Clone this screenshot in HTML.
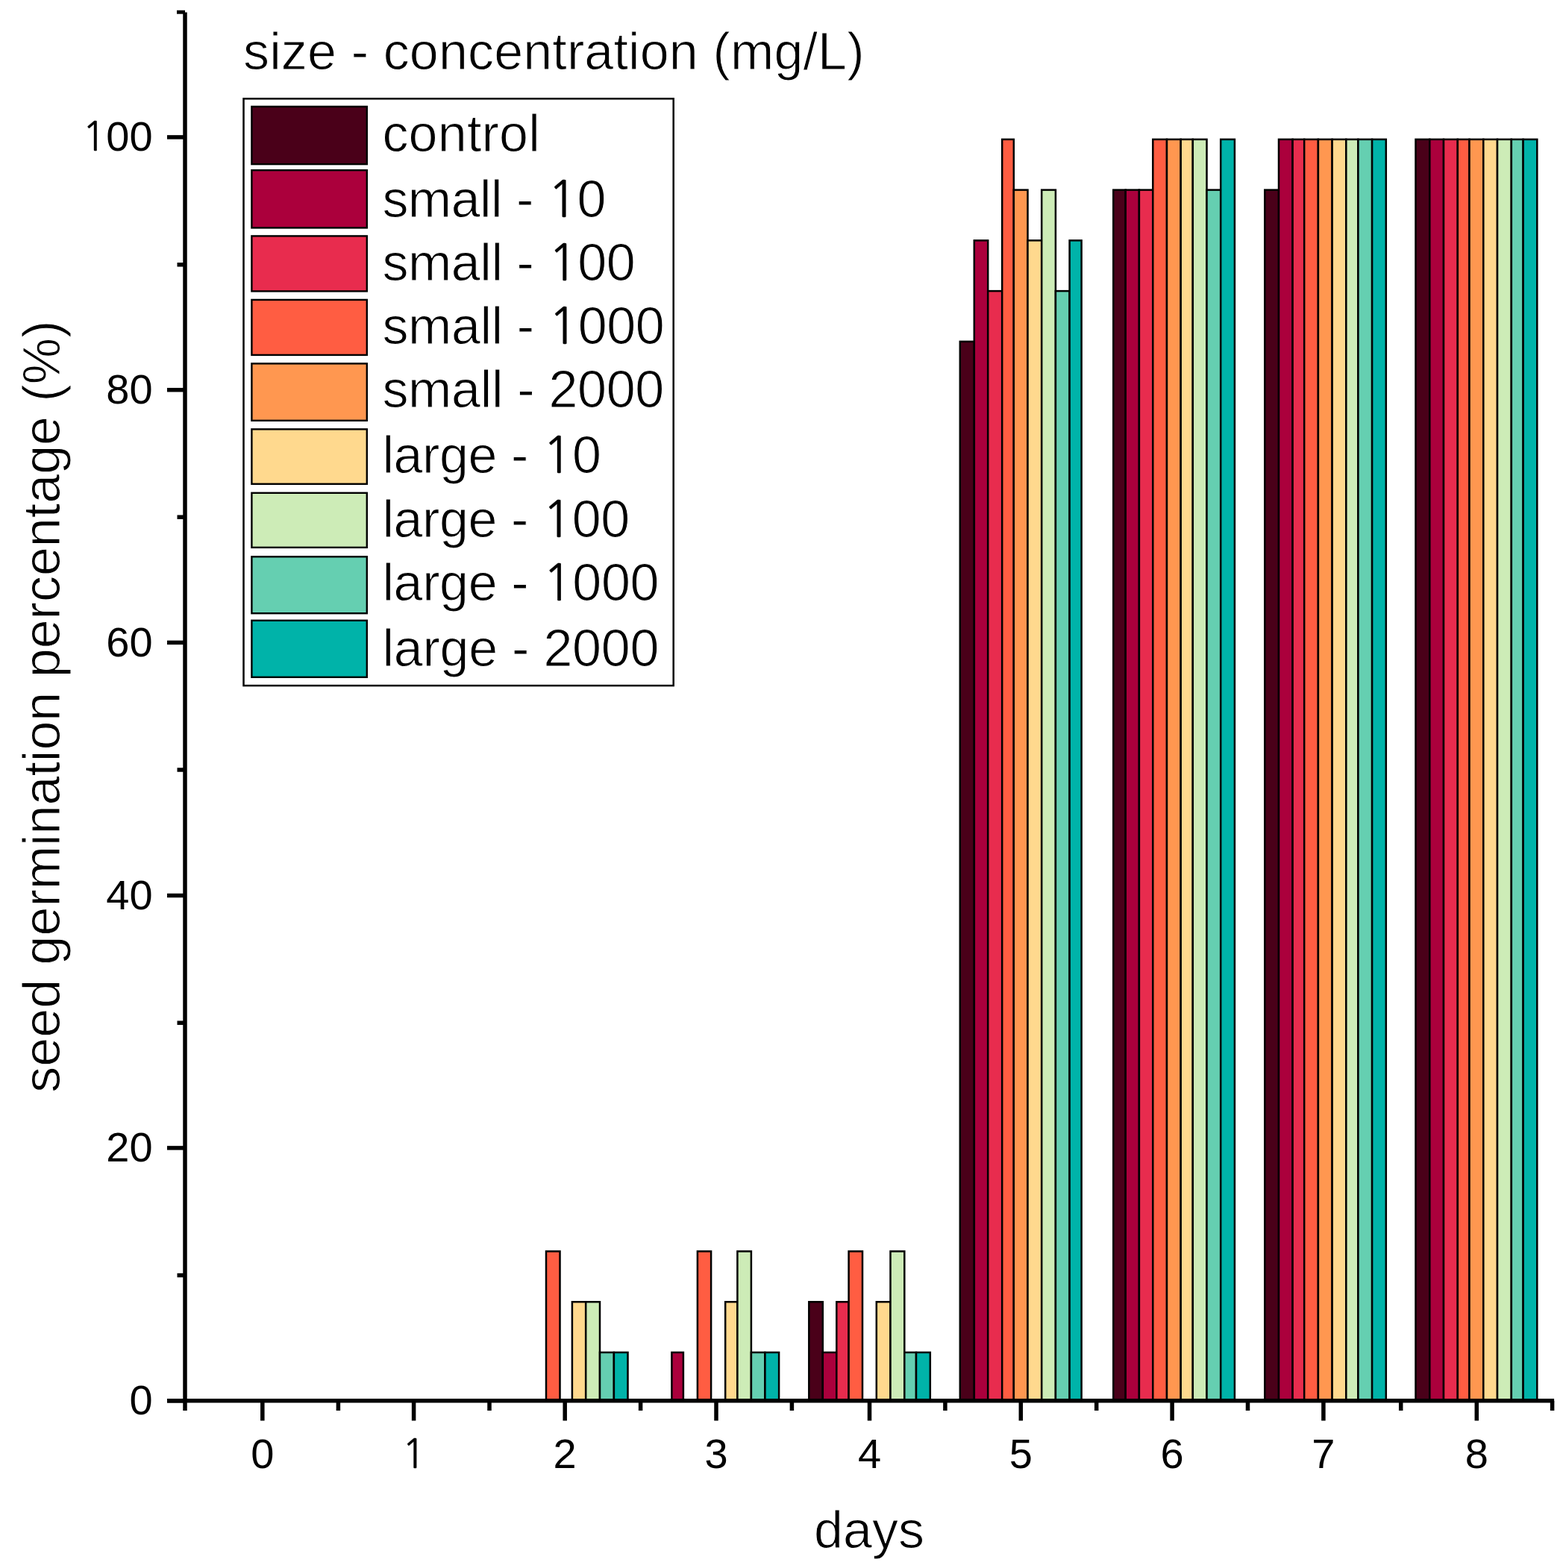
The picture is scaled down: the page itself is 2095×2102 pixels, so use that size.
<!DOCTYPE html>
<html><head><meta charset="utf-8"><title>seed germination</title>
<style>html,body{margin:0;padding:0;background:#fff;}body{width:2095px;height:2102px;overflow:hidden;}svg{display:block;}</style>
</head><body>
<svg width="2095" height="2102" viewBox="0 0 2095 2102"><rect x="732.00" y="1677.48" width="18.50" height="200.32" fill="#ff5d42" stroke="#000" stroke-width="2.5"/>
<rect x="766.90" y="1745.24" width="18.30" height="132.56" fill="#ffd98e" stroke="#000" stroke-width="2.5"/>
<rect x="785.20" y="1745.24" width="18.80" height="132.56" fill="#cdecb7" stroke="#000" stroke-width="2.5"/>
<rect x="804.00" y="1812.99" width="18.90" height="64.81" fill="#65cfb1" stroke="#000" stroke-width="2.5"/>
<rect x="822.90" y="1812.99" width="18.60" height="64.81" fill="#00b3a9" stroke="#000" stroke-width="2.5"/>
<rect x="900.40" y="1812.99" width="15.50" height="64.81" fill="#ab003c" stroke="#000" stroke-width="2.5"/>
<rect x="934.90" y="1677.48" width="18.20" height="200.32" fill="#ff5d42" stroke="#000" stroke-width="2.5"/>
<rect x="972.20" y="1745.24" width="16.20" height="132.56" fill="#ffd98e" stroke="#000" stroke-width="2.5"/>
<rect x="988.40" y="1677.48" width="18.50" height="200.32" fill="#cdecb7" stroke="#000" stroke-width="2.5"/>
<rect x="1006.90" y="1812.99" width="18.50" height="64.81" fill="#65cfb1" stroke="#000" stroke-width="2.5"/>
<rect x="1025.40" y="1812.99" width="18.70" height="64.81" fill="#00b3a9" stroke="#000" stroke-width="2.5"/>
<rect x="1084.30" y="1745.24" width="18.50" height="132.56" fill="#4a0019" stroke="#000" stroke-width="2.5"/>
<rect x="1102.80" y="1812.99" width="18.50" height="64.81" fill="#ab003c" stroke="#000" stroke-width="2.5"/>
<rect x="1121.30" y="1745.24" width="16.30" height="132.56" fill="#e82c4e" stroke="#000" stroke-width="2.5"/>
<rect x="1137.60" y="1677.48" width="18.40" height="200.32" fill="#ff5d42" stroke="#000" stroke-width="2.5"/>
<rect x="1174.80" y="1745.24" width="18.70" height="132.56" fill="#ffd98e" stroke="#000" stroke-width="2.5"/>
<rect x="1193.50" y="1677.48" width="18.80" height="200.32" fill="#cdecb7" stroke="#000" stroke-width="2.5"/>
<rect x="1212.30" y="1812.99" width="15.70" height="64.81" fill="#65cfb1" stroke="#000" stroke-width="2.5"/>
<rect x="1228.00" y="1812.99" width="18.80" height="64.81" fill="#00b3a9" stroke="#000" stroke-width="2.5"/>
<rect x="1286.80" y="457.87" width="19.00" height="1419.93" fill="#4a0019" stroke="#000" stroke-width="2.5"/>
<rect x="1305.80" y="322.36" width="18.40" height="1555.44" fill="#ab003c" stroke="#000" stroke-width="2.5"/>
<rect x="1324.20" y="390.12" width="19.00" height="1487.68" fill="#e82c4e" stroke="#000" stroke-width="2.5"/>
<rect x="1343.20" y="186.85" width="15.60" height="1690.95" fill="#ff5d42" stroke="#000" stroke-width="2.5"/>
<rect x="1358.80" y="254.61" width="18.70" height="1623.19" fill="#ff9750" stroke="#000" stroke-width="2.5"/>
<rect x="1377.50" y="322.36" width="18.70" height="1555.44" fill="#ffd98e" stroke="#000" stroke-width="2.5"/>
<rect x="1396.20" y="254.61" width="18.70" height="1623.19" fill="#cdecb7" stroke="#000" stroke-width="2.5"/>
<rect x="1414.90" y="390.12" width="18.70" height="1487.68" fill="#65cfb1" stroke="#000" stroke-width="2.5"/>
<rect x="1433.60" y="322.36" width="16.00" height="1555.44" fill="#00b3a9" stroke="#000" stroke-width="2.5"/>
<rect x="1492.30" y="254.61" width="16.40" height="1623.19" fill="#4a0019" stroke="#000" stroke-width="2.5"/>
<rect x="1508.70" y="254.61" width="18.20" height="1623.19" fill="#ab003c" stroke="#000" stroke-width="2.5"/>
<rect x="1526.90" y="254.61" width="18.40" height="1623.19" fill="#e82c4e" stroke="#000" stroke-width="2.5"/>
<rect x="1545.30" y="186.85" width="18.70" height="1690.95" fill="#ff5d42" stroke="#000" stroke-width="2.5"/>
<rect x="1564.00" y="186.85" width="18.70" height="1690.95" fill="#ff9750" stroke="#000" stroke-width="2.5"/>
<rect x="1582.70" y="186.85" width="16.10" height="1690.95" fill="#ffd98e" stroke="#000" stroke-width="2.5"/>
<rect x="1598.80" y="186.85" width="18.70" height="1690.95" fill="#cdecb7" stroke="#000" stroke-width="2.5"/>
<rect x="1617.50" y="254.61" width="18.70" height="1623.19" fill="#65cfb1" stroke="#000" stroke-width="2.5"/>
<rect x="1636.20" y="186.85" width="18.70" height="1690.95" fill="#00b3a9" stroke="#000" stroke-width="2.5"/>
<rect x="1695.30" y="254.61" width="18.70" height="1623.19" fill="#4a0019" stroke="#000" stroke-width="2.5"/>
<rect x="1714.00" y="186.85" width="18.60" height="1690.95" fill="#ab003c" stroke="#000" stroke-width="2.5"/>
<rect x="1732.60" y="186.85" width="15.60" height="1690.95" fill="#e82c4e" stroke="#000" stroke-width="2.5"/>
<rect x="1748.20" y="186.85" width="18.70" height="1690.95" fill="#ff5d42" stroke="#000" stroke-width="2.5"/>
<rect x="1766.90" y="186.85" width="18.70" height="1690.95" fill="#ff9750" stroke="#000" stroke-width="2.5"/>
<rect x="1785.60" y="186.85" width="18.70" height="1690.95" fill="#ffd98e" stroke="#000" stroke-width="2.5"/>
<rect x="1804.30" y="186.85" width="16.10" height="1690.95" fill="#cdecb7" stroke="#000" stroke-width="2.5"/>
<rect x="1820.40" y="186.85" width="18.70" height="1690.95" fill="#65cfb1" stroke="#000" stroke-width="2.5"/>
<rect x="1839.10" y="186.85" width="18.70" height="1690.95" fill="#00b3a9" stroke="#000" stroke-width="2.5"/>
<rect x="1897.50" y="186.85" width="18.80" height="1690.95" fill="#4a0019" stroke="#000" stroke-width="2.5"/>
<rect x="1916.30" y="186.85" width="18.70" height="1690.95" fill="#ab003c" stroke="#000" stroke-width="2.5"/>
<rect x="1935.00" y="186.85" width="18.80" height="1690.95" fill="#e82c4e" stroke="#000" stroke-width="2.5"/>
<rect x="1953.80" y="186.85" width="15.70" height="1690.95" fill="#ff5d42" stroke="#000" stroke-width="2.5"/>
<rect x="1969.50" y="186.85" width="18.80" height="1690.95" fill="#ff9750" stroke="#000" stroke-width="2.5"/>
<rect x="1988.30" y="186.85" width="18.70" height="1690.95" fill="#ffd98e" stroke="#000" stroke-width="2.5"/>
<rect x="2007.00" y="186.85" width="18.80" height="1690.95" fill="#cdecb7" stroke="#000" stroke-width="2.5"/>
<rect x="2025.80" y="186.85" width="15.80" height="1690.95" fill="#65cfb1" stroke="#000" stroke-width="2.5"/>
<rect x="2041.60" y="186.85" width="18.70" height="1690.95" fill="#00b3a9" stroke="#000" stroke-width="2.5"/>
<line x1="248.0" y1="16.4" x2="248.0" y2="1877.8" stroke="#000" stroke-width="5.5"/>
<line x1="224" y1="1877.8" x2="2083.10" y2="1877.8" stroke="#000" stroke-width="5.5"/>
<line x1="224" y1="1877.80" x2="248.0" y2="1877.80" stroke="#000" stroke-width="5.5"/>
<line x1="237.5" y1="1709.60" x2="248.0" y2="1709.60" stroke="#000" stroke-width="5.5"/>
<line x1="224" y1="1538.90" x2="248.0" y2="1538.90" stroke="#000" stroke-width="5.5"/>
<line x1="237.5" y1="1371.20" x2="248.0" y2="1371.20" stroke="#000" stroke-width="5.5"/>
<line x1="224" y1="1200.50" x2="248.0" y2="1200.50" stroke="#000" stroke-width="5.5"/>
<line x1="237.5" y1="1032.00" x2="248.0" y2="1032.00" stroke="#000" stroke-width="5.5"/>
<line x1="224" y1="861.40" x2="248.0" y2="861.40" stroke="#000" stroke-width="5.5"/>
<line x1="237.5" y1="693.20" x2="248.0" y2="693.20" stroke="#000" stroke-width="5.5"/>
<line x1="224" y1="522.70" x2="248.0" y2="522.70" stroke="#000" stroke-width="5.5"/>
<line x1="237.5" y1="354.80" x2="248.0" y2="354.80" stroke="#000" stroke-width="5.5"/>
<line x1="224" y1="183.90" x2="248.0" y2="183.90" stroke="#000" stroke-width="5.5"/>
<line x1="237" y1="16.25" x2="248" y2="16.25" stroke="#000" stroke-width="4.9"/>
<line x1="248.00" y1="1877.8" x2="248.00" y2="1891" stroke="#000" stroke-width="5.5"/>
<line x1="351.80" y1="1877.8" x2="351.80" y2="1904.5" stroke="#000" stroke-width="5.5"/>
<line x1="453.40" y1="1877.8" x2="453.40" y2="1891" stroke="#000" stroke-width="5.5"/>
<line x1="554.60" y1="1877.8" x2="554.60" y2="1904.5" stroke="#000" stroke-width="5.5"/>
<line x1="656.00" y1="1877.8" x2="656.00" y2="1891" stroke="#000" stroke-width="5.5"/>
<line x1="757.20" y1="1877.8" x2="757.20" y2="1904.5" stroke="#000" stroke-width="5.5"/>
<line x1="858.60" y1="1877.8" x2="858.60" y2="1891" stroke="#000" stroke-width="5.5"/>
<line x1="960.00" y1="1877.8" x2="960.00" y2="1904.5" stroke="#000" stroke-width="5.5"/>
<line x1="1061.40" y1="1877.8" x2="1061.40" y2="1891" stroke="#000" stroke-width="5.5"/>
<line x1="1165.50" y1="1877.8" x2="1165.50" y2="1904.5" stroke="#000" stroke-width="5.5"/>
<line x1="1266.90" y1="1877.8" x2="1266.90" y2="1891" stroke="#000" stroke-width="5.5"/>
<line x1="1368.30" y1="1877.8" x2="1368.30" y2="1904.5" stroke="#000" stroke-width="5.5"/>
<line x1="1469.70" y1="1877.8" x2="1469.70" y2="1891" stroke="#000" stroke-width="5.5"/>
<line x1="1571.10" y1="1877.8" x2="1571.10" y2="1904.5" stroke="#000" stroke-width="5.5"/>
<line x1="1672.50" y1="1877.8" x2="1672.50" y2="1891" stroke="#000" stroke-width="5.5"/>
<line x1="1773.90" y1="1877.8" x2="1773.90" y2="1904.5" stroke="#000" stroke-width="5.5"/>
<line x1="1877.70" y1="1877.8" x2="1877.70" y2="1891" stroke="#000" stroke-width="5.5"/>
<line x1="1979.30" y1="1877.8" x2="1979.30" y2="1904.5" stroke="#000" stroke-width="5.5"/>
<line x1="2080.60" y1="1877.8" x2="2080.60" y2="1891" stroke="#000" stroke-width="5.5"/>
<text x="204.6" y="1896.30" text-anchor="end" font-size="56.0" font-family="'Liberation Sans', Arial, sans-serif">0</text>
<text x="204.6" y="1557.40" text-anchor="end" font-size="56.0" font-family="'Liberation Sans', Arial, sans-serif">20</text>
<text x="204.6" y="1219.00" text-anchor="end" font-size="56.0" font-family="'Liberation Sans', Arial, sans-serif">40</text>
<text x="204.6" y="879.90" text-anchor="end" font-size="56.0" font-family="'Liberation Sans', Arial, sans-serif">60</text>
<text x="204.6" y="541.20" text-anchor="end" font-size="56.0" font-family="'Liberation Sans', Arial, sans-serif">80</text>
<text x="204.6" y="202.40" text-anchor="end" font-size="56.0" font-family="'Liberation Sans', Arial, sans-serif"><tspan font-family="NanumGothic, 'Liberation Sans', sans-serif" font-size="53.31" stroke="#000" stroke-width="0.3">1</tspan>00</text>
<text x="351.80" y="1968" text-anchor="middle" font-size="56.0" font-family="'Liberation Sans', Arial, sans-serif">0</text>
<text x="554.60" y="1968" text-anchor="middle" font-size="56.0" font-family="'Liberation Sans', Arial, sans-serif"><tspan font-family="NanumGothic, 'Liberation Sans', sans-serif" font-size="53.31" stroke="#000" stroke-width="0.3">1</tspan></text>
<text x="757.20" y="1968" text-anchor="middle" font-size="56.0" font-family="'Liberation Sans', Arial, sans-serif">2</text>
<text x="960.00" y="1968" text-anchor="middle" font-size="56.0" font-family="'Liberation Sans', Arial, sans-serif">3</text>
<text x="1165.50" y="1968" text-anchor="middle" font-size="56.0" font-family="'Liberation Sans', Arial, sans-serif">4</text>
<text x="1368.30" y="1968" text-anchor="middle" font-size="56.0" font-family="'Liberation Sans', Arial, sans-serif">5</text>
<text x="1571.10" y="1968" text-anchor="middle" font-size="56.0" font-family="'Liberation Sans', Arial, sans-serif">6</text>
<text x="1773.90" y="1968" text-anchor="middle" font-size="56.0" font-family="'Liberation Sans', Arial, sans-serif">7</text>
<text x="1979.30" y="1968" text-anchor="middle" font-size="56.0" font-family="'Liberation Sans', Arial, sans-serif">8</text>
<text x="1165" y="2074.6" text-anchor="middle" font-size="70" font-family="'Liberation Sans', Arial, sans-serif" stroke="#fff" stroke-width="1" stroke-linejoin="round">days</text>
<text transform="translate(79.6 947.2) rotate(-90)" x="0" y="0" text-anchor="middle" font-size="70" font-family="'Liberation Sans', Arial, sans-serif" stroke="#fff" stroke-width="1" stroke-linejoin="round">seed germination percentage (%)</text>
<text x="326" y="93.1" font-size="70" textLength="832.45" lengthAdjust="spacing" font-family="'Liberation Sans', Arial, sans-serif" stroke="#fff" stroke-width="1" stroke-linejoin="round">size - concentration (mg/L)</text>
<rect x="326.5" y="132.3" width="576.2" height="786.8" fill="#fff" stroke="#000" stroke-width="2.5"/>
<rect x="337.40" y="142.90" width="154.40" height="77.20" fill="#4a0019" stroke="#000" stroke-width="2.4"/>
<text x="512.4" y="202.60" font-size="70" textLength="211.43" lengthAdjust="spacing" font-family="'Liberation Sans', Arial, sans-serif" stroke="#fff" stroke-width="1" stroke-linejoin="round">control</text>
<rect x="337.40" y="228.20" width="154.40" height="77.20" fill="#ab003c" stroke="#000" stroke-width="2.4"/>
<text x="512.4" y="290.50" font-size="70" textLength="300.14" lengthAdjust="spacing" font-family="'Liberation Sans', Arial, sans-serif" stroke="#fff" stroke-width="1" stroke-linejoin="round">small - <tspan font-family="NanumGothic, 'Liberation Sans', sans-serif" font-size="66.63" stroke="#000" stroke-width="0.3">1</tspan>0</text>
<rect x="337.40" y="316.40" width="154.40" height="74.00" fill="#e82c4e" stroke="#000" stroke-width="2.4"/>
<text x="512.4" y="375.70" font-size="70" textLength="339.38" lengthAdjust="spacing" font-family="'Liberation Sans', Arial, sans-serif" stroke="#fff" stroke-width="1" stroke-linejoin="round">small - <tspan font-family="NanumGothic, 'Liberation Sans', sans-serif" font-size="66.63" stroke="#000" stroke-width="0.3">1</tspan>00</text>
<rect x="337.40" y="401.90" width="154.40" height="74.00" fill="#ff5d42" stroke="#000" stroke-width="2.4"/>
<text x="512.4" y="460.70" font-size="70" textLength="378.21" lengthAdjust="spacing" font-family="'Liberation Sans', Arial, sans-serif" stroke="#fff" stroke-width="1" stroke-linejoin="round">small - <tspan font-family="NanumGothic, 'Liberation Sans', sans-serif" font-size="66.63" stroke="#000" stroke-width="0.3">1</tspan>000</text>
<rect x="337.40" y="487.40" width="154.40" height="76.40" fill="#ff9750" stroke="#000" stroke-width="2.4"/>
<text x="512.4" y="546.40" font-size="70" textLength="377.81" lengthAdjust="spacing" font-family="'Liberation Sans', Arial, sans-serif" stroke="#fff" stroke-width="1" stroke-linejoin="round">small - 2000</text>
<rect x="337.40" y="575.40" width="154.40" height="73.40" fill="#ffd98e" stroke="#000" stroke-width="2.4"/>
<text x="512.4" y="634.00" font-size="70" textLength="293.57" lengthAdjust="spacing" font-family="'Liberation Sans', Arial, sans-serif" stroke="#fff" stroke-width="1" stroke-linejoin="round">large - <tspan font-family="NanumGothic, 'Liberation Sans', sans-serif" font-size="66.63" stroke="#000" stroke-width="0.3">1</tspan>0</text>
<rect x="337.40" y="660.80" width="154.40" height="73.10" fill="#cdecb7" stroke="#000" stroke-width="2.4"/>
<text x="512.4" y="719.80" font-size="70" textLength="331.80" lengthAdjust="spacing" font-family="'Liberation Sans', Arial, sans-serif" stroke="#fff" stroke-width="1" stroke-linejoin="round">large - <tspan font-family="NanumGothic, 'Liberation Sans', sans-serif" font-size="66.63" stroke="#000" stroke-width="0.3">1</tspan>00</text>
<rect x="337.40" y="746.30" width="154.40" height="75.90" fill="#65cfb1" stroke="#000" stroke-width="2.4"/>
<text x="512.4" y="805.00" font-size="70" textLength="371.04" lengthAdjust="spacing" font-family="'Liberation Sans', Arial, sans-serif" stroke="#fff" stroke-width="1" stroke-linejoin="round">large - <tspan font-family="NanumGothic, 'Liberation Sans', sans-serif" font-size="66.63" stroke="#000" stroke-width="0.3">1</tspan>000</text>
<rect x="337.40" y="831.80" width="154.40" height="76.00" fill="#00b3a9" stroke="#000" stroke-width="2.4"/>
<text x="512.4" y="892.60" font-size="70" textLength="371.04" lengthAdjust="spacing" font-family="'Liberation Sans', Arial, sans-serif" stroke="#fff" stroke-width="1" stroke-linejoin="round">large - 2000</text></svg>
</body></html>
